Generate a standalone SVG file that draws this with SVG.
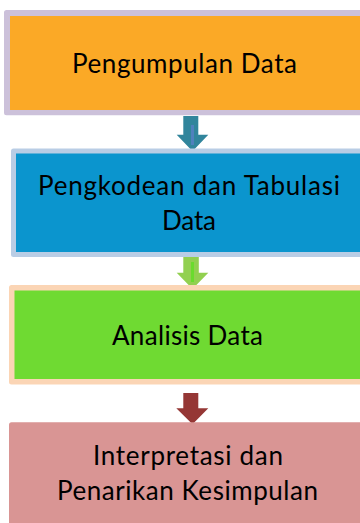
<svg xmlns="http://www.w3.org/2000/svg" width="360" height="523" viewBox="0 0 360 523">
<style>
.t{font-family:Lato,"Open Sans","Liberation Sans",sans-serif;font-size:26px;fill:#000;text-anchor:middle}
</style>
<rect width="360" height="523" fill="#fff"/>
<g id="connectors">
  <g id="arrow1">
    <polygon points="183.3,116 198.3,116 198.3,134.7 208.3,134.7 192.5,151.3 176.7,134.7 183.3,134.7" fill="#31859C"/>
    <rect x="191" y="125" width="3" height="20" fill="#4F81BD"/>
  </g>
  <g id="arrow2">
    <polygon points="183.3,256 198.8,256 198.8,272.7 208.3,272.7 192.5,289 176.7,272.7 183.3,272.7" fill="#92D050"/>
    <rect x="191" y="262" width="3" height="20" fill="#6ADB2E"/>
  </g>
  <g id="arrow3">
    <polygon points="183.3,393 198.3,393 198.3,408.3 208.3,408.3 192.5,424.3 176.3,408.3 183.3,408.3" fill="#953735"/>
  </g>
</g>
<g id="node1">
  <rect x="4" y="10" width="400" height="105.3" rx="2.5" fill="#CCC1DA"/>
  <rect x="10" y="16" width="400" height="94" fill="#FBA926"/>
  <text class="t" x="184.5" y="73" textLength="225">Pengumpulan Data</text>
</g>
<g id="node2">
  <rect x="11" y="148.5" width="400" height="108.5" rx="2.5" fill="#B9CDE5"/>
  <rect x="16" y="153.5" width="400" height="98.5" fill="#0B95CE"/>
  <text class="t" x="189" y="195" textLength="302">Pengkodean dan Tabulasi</text>
  <text class="t" x="189" y="230" textLength="54">Data</text>
</g>
<g id="node3">
  <rect x="9" y="285" width="400" height="99.5" rx="2.5" fill="#FBD5B5"/>
  <rect x="14.5" y="290.5" width="400" height="88.5" fill="#6FDA32"/>
  <text class="t" x="187.5" y="345" textLength="151">Analisis Data</text>
</g>
<g id="node4">
  <rect x="9" y="422.3" width="400" height="120" rx="2.5" fill="#D99594"/>
  <text class="t" x="188" y="465" textLength="190">Interpretasi dan</text>
  <text class="t" x="187.5" y="500" textLength="261">Penarikan Kesimpulan</text>
</g>
</svg>
